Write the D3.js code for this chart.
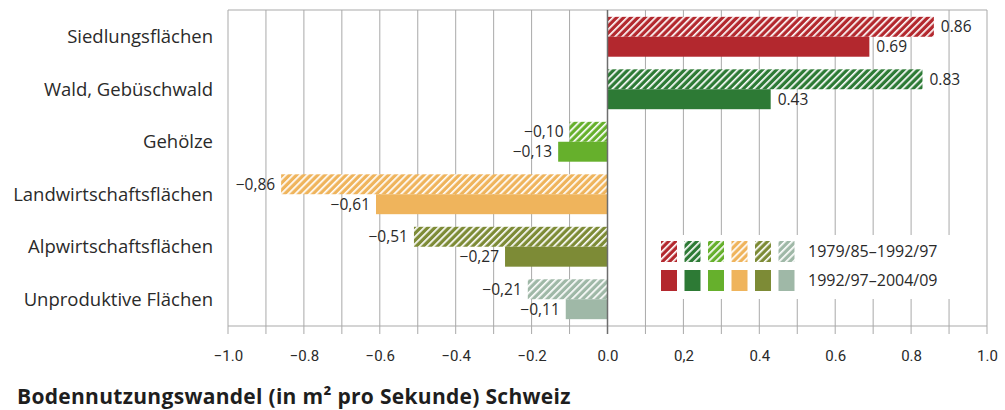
<!DOCTYPE html>
<html><head><meta charset="utf-8">
<script src="https://cdn.jsdelivr.net/npm/d3@7"></script>
<style>
body{margin:0;background:#fff;}
svg{display:block;}
</style></head>
<body>
<svg id="chart" width="1005" height="410"></svg>
<script>
const categories = ["Siedlungsflächen","Wald, Gebüschwald","Gehölze","Landwirtschaftsflächen","Alpwirtschaftsflächen","Unproduktive Flächen"];
const period1 = [0.86, 0.83, -0.10, -0.86, -0.51, -0.21]; // 1979/85–1992/97 (hatched)
const period2 = [0.69, 0.43, -0.13, -0.61, -0.27, -0.11]; // 1992/97–2004/09 (solid)
const colors = ["#b3282e","#2d7a35","#66b02c","#efb45c","#7d8b36","#9fb8a7"];
const seriesNames = ["1979/85–1992/97","1992/97–2004/09"];
const tickValues = [-1,-0.8,-0.6,-0.4,-0.2,0,0.2,0.4,0.6,0.8,1];
const tickLabels = ["−1.0","−0.8","−0.6","−0.4","−0.2","0.0","0,2","0.4","0.6","0.8","1.0"];
const title = "Bodennutzungswandel (in m² pro Sekunde) Schweiz";

const svg = d3.select("#chart");
const L = 228, R = 987, T = 10, B = 326;
const font = "'Open Sans', sans-serif";

const x = d3.scaleLinear().domain([-1,1]).range([L,R]);
const y = d3.scaleBand().domain(categories).range([T,B]).paddingInner(0.24).paddingOuter(0.13);

// patterns
const defs = svg.append("defs");
colors.forEach((c,i)=>{
  const p = defs.append("pattern").attr("id","hatch"+i).attr("patternUnits","userSpaceOnUse")
    .attr("width",5).attr("height",5).attr("patternTransform","rotate(45)");
  p.append("rect").attr("width",5).attr("height",5).attr("fill",c);
  p.append("rect").attr("x",0).attr("width",1.7).attr("height",5).attr("fill","#fff");
});

// grid lines
const grid = d3.range(-10,11).map(d=>d/10);
svg.append("g").selectAll("line").data(grid).join("line")
  .attr("x1",d=>x(d)).attr("x2",d=>x(d)).attr("y1",T).attr("y2",B+8)
  .attr("stroke","#a9a9a9").attr("stroke-width",1);
// frame
svg.append("line").attr("x1",L).attr("x2",R).attr("y1",T).attr("y2",T).attr("stroke","#a9a9a9");
svg.append("line").attr("x1",L).attr("x2",R).attr("y1",B).attr("y2",B).attr("stroke","#a9a9a9");

// legend background
const lg = svg.append("g");
lg.append("rect").attr("x",651).attr("y",235).attr("width",312).attr("height",64).attr("fill","#fff");

// bars
const bh = y.bandwidth()/2;
const g = svg.append("g");
categories.forEach((cat,i)=>{
  const v1 = period1[i], v2 = period2[i];
  g.append("rect").attr("x",x(Math.min(0,v1))).attr("width",Math.abs(x(v1)-x(0)))
    .attr("y",y(cat)).attr("height",bh).attr("fill","url(#hatch"+i+")");
  g.append("rect").attr("x",x(Math.min(0,v2))).attr("width",Math.abs(x(v2)-x(0)))
    .attr("y",y(cat)+bh).attr("height",bh).attr("fill",colors[i]);
});

// zero line
svg.append("line").attr("x1",x(0)).attr("x2",x(0)).attr("y1",T).attr("y2",B+8)
  .attr("stroke","#6e6e6e").attr("stroke-width",1.5);

// value labels
const fmt = v => v >= 0 ? d3.format(".2f")(v) : "−" + d3.format(".2f")(-v).replace(".",",");
const lbl = svg.append("g").attr("font-family",font).attr("font-size",15.5).attr("fill","#2a2a2a");
categories.forEach((cat,i)=>{
  [[period1[i],0],[period2[i],1]].forEach(([v,k])=>{
    lbl.append("text").attr("x", v>=0 ? x(v)+7 : x(v)-6)
      .attr("y", y(cat)+bh*k+bh/2).attr("dy","0.35em")
      .attr("text-anchor", v>=0 ? "start" : "end").text(fmt(v));
  });
});

// category labels
svg.append("g").selectAll("text").data(categories).join("text")
  .attr("x",213).attr("y",d=>y(d)+y.bandwidth()/2).attr("dy","0.35em")
  .attr("text-anchor","end").attr("font-family",font).attr("font-size",18.5).attr("fill","#2a2a2a")
  .text(d=>d);

// x axis labels
const axis = d3.axisBottom(x).tickValues(tickValues).tickSize(0).tickPadding(0)
  .tickFormat((d,i)=>tickLabels[i]);
const ax = svg.append("g").attr("transform",`translate(0,${B+24})`).call(axis);
ax.select(".domain").remove();
ax.selectAll("text").attr("font-family","Roboto, sans-serif").attr("font-size",15).attr("fill","#2a2a2a");

// legend
const lx0 = 661, lstep = 23.5, lw = 16, lh = 21;
colors.forEach((c,i)=>{
  lg.append("rect").attr("x",lx0+i*lstep).attr("y",241).attr("width",lw).attr("height",lh).attr("fill","url(#hatch"+i+")");
  lg.append("rect").attr("x",lx0+i*lstep).attr("y",270).attr("width",lw).attr("height",lh).attr("fill",c);
});
seriesNames.forEach((s,k)=>{
  lg.append("text").attr("x",808).attr("y",251.5+k*29).attr("dy","0.35em")
    .attr("font-family",font).attr("font-size",16).attr("fill","#2a2a2a").text(s);
});

// title
svg.append("text").attr("x",17).attr("y",404).attr("font-family",font).attr("font-weight","bold")
  .attr("font-size",21).attr("letter-spacing",0.3).attr("fill","#1e1e1e").text(title);
</script>
</body></html>
